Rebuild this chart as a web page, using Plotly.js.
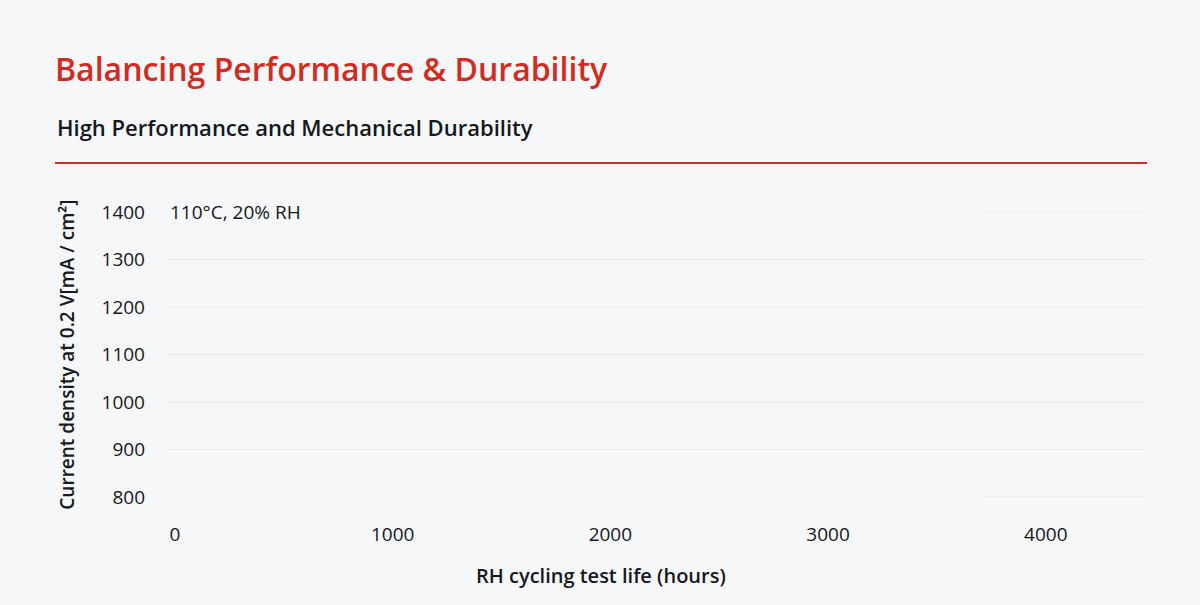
<!DOCTYPE html>
<html>
<head>
<meta charset="utf-8">
<script src="https://cdn.plot.ly/plotly-3.0.1.min.js"></script>
<style>
  html, body { margin: 0; padding: 0; background: #f6f7f9; }
  #chart { width: 1200px; height: 605px; }
</style>
</head>
<body>
<div id="chart"></div>
<script>
// chart values
let xTicks = [0, 1000, 2000, 3000, 4000];
let yTicks = [800, 900, 1000, 1100, 1200, 1300, 1400];
let gridFull = [900, 1000, 1100, 1200, 1300];
let gridPartial = [800, 1400];
let partialStart = 3690;
let xRange = [-32, 4465];
let yRange = [800, 1400];

let hours = [];
let density = [];

let bg = '#f6f7f9';
let gridColor = '#e4e6e9';
let textColor = '#15181c';
let red = '#d42b20';
let font = 'Open Sans, Noto Sans, sans-serif';

// grid lines drawn as shapes, 800 and 1400 only on the right
let shapes = [];
gridFull.forEach(function(v) {
    shapes.push({type: 'line', layer: 'below', xref: 'paper', yref: 'y',
        x0: 0, x1: 1, y0: v, y1: v, line: {color: gridColor, width: 1}});
});
gridPartial.forEach(function(v) {
    shapes.push({type: 'line', layer: 'below', xref: 'x', yref: 'y',
        x0: partialStart, x1: xRange[1], y0: v, y1: v, line: {color: gridColor, width: 1}});
});
// red rule under the subtitle
shapes.push({type: 'line', xref: 'paper', yref: 'paper',
    x0: -0.1154, x1: 1, y0: 1.172, y1: 1.172, line: {color: red, width: 2}});

var data = [{
    type: 'scatter',
    mode: 'lines',
    x: hours,
    y: density,
    hoverinfo: 'skip',
    showlegend: false,
}];

var layout = {
    width: 1200,
    height: 605,
    paper_bgcolor: bg,
    plot_bgcolor: bg,
    margin: {l: 168, r: 53, t: 212, b: 108},
    font: {family: font, color: textColor, size: 19},
    title: {
        text: 'Balancing Performance &amp; Durability',
        x: 55 / 1200, xanchor: 'left', xref: 'container',
        y: 1 - 70 / 605, yanchor: 'middle', yref: 'container',
        font: {family: font, size: 32, color: red, weight: 600},
    },
    xaxis: {
        range: xRange,
        tickvals: xTicks,
        showgrid: false,
        zeroline: false,
        showline: false,
        ticks: '',
        ticklabelstandoff: 24,
        tickfont: {size: 19, color: textColor},
        fixedrange: true,
    },
    yaxis: {
        range: yRange,
        tickvals: yTicks,
        showgrid: false,
        zeroline: false,
        showline: false,
        ticks: '',
        ticklabelstandoff: 22,
        tickfont: {size: 19, color: textColor},
        fixedrange: true,
    },
    shapes: shapes,
    annotations: [
        {
            text: 'High Performance and Mechanical Durability',
            xref: 'paper', yref: 'paper', x: -0.1154, y: 1.298,
            xanchor: 'left', yanchor: 'middle', showarrow: false,
            font: {size: 22, color: textColor, weight: 600},
        },
        {
            text: '110°C, 20% RH',
            xref: 'paper', yref: 'y', x: 0.0, y: 1400,
            xanchor: 'left', yanchor: 'middle', showarrow: false,
            font: {size: 19, color: textColor},
        },
        {
            text: 'Current density at 0.2 V[mA / cm²]',
            xref: 'paper', yref: 'paper', x: -0.104, y: 0.5,
            xanchor: 'center', yanchor: 'middle', textangle: -90, showarrow: false,
            font: {size: 19, color: textColor, weight: 600},
        },
        {
            text: 'RH cycling test life (hours)',
            xref: 'paper', yref: 'paper', x: 0.442, y: -0.274,
            xanchor: 'center', yanchor: 'middle', showarrow: false,
            font: {size: 20, color: textColor, weight: 600},
        },
    ],
};

var config = {
    displayModeBar: false,
    staticPlot: true,
};

Plotly.newPlot('chart', data, layout, config);
</script>
</body>
</html>
